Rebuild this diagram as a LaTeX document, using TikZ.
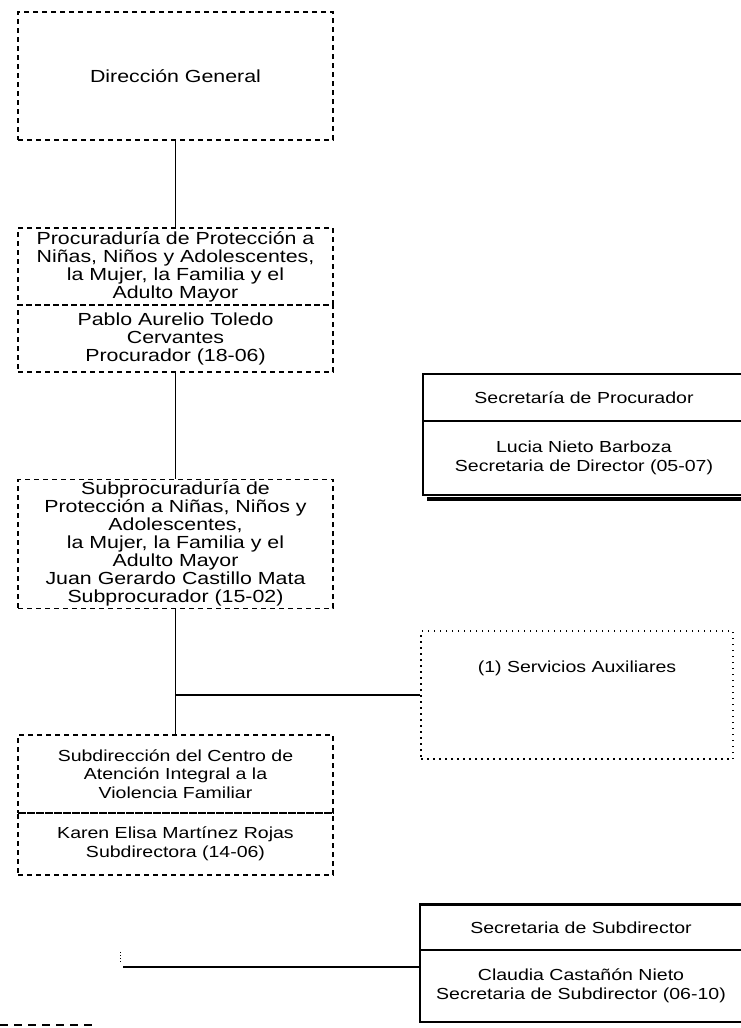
\documentclass[tikz,border=0pt]{standalone}
\usepackage{fontspec}
\setmainfont{Liberation Sans}[FakeStretch=1.22]
\usetikzlibrary{positioning}

\begin{document}
\begin{tikzpicture}[x=1pt, y=-1pt,
    caja/.style={draw, dash pattern=on 5pt off 4pt, line width=1.1pt, align=center, inner sep=2pt},
    cajapunto/.style={draw, dash pattern=on 1.5pt off 4.5pt, line width=1.5pt},
    cajasolida/.style={draw, line width=1.3pt, align=center, inner sep=2pt},
    linea/.style={line width=1.5pt},
    titulo/.style={font=\fontsize{17.5}{18}\selectfont},
    texto/.style={font=\fontsize{16}{18.5}\selectfont}]
    \useasboundingbox (0,0) rectangle (740,1028);

    % Columna principal
    \node[caja, titulo, minimum width=315pt, minimum height=128pt] (dirgral) at (175.5,76) {Dirección General};
    \node[caja, titulo, minimum width=315pt, minimum height=77pt] (procu) at (175.5,266.5)
        {Procuraduría de Protección a\\Niñas, Niños y Adolescentes,\\la Mujer, la Familia y el\\Adulto Mayor};
    \node[caja, titulo, minimum width=315pt, minimum height=67pt] (procunom) at (175.5,338.5)
        {Pablo Aurelio Toledo\\Cervantes\\Procurador (18-06)};
    \node[caja, titulo, minimum width=315pt, minimum height=128pt] (subprocu) at (175.5,544)
        {Subprocuraduría de\\Protección a Niñas, Niños y\\Adolescentes,\\la Mujer, la Familia y el\\Adulto Mayor\\Juan Gerardo Castillo Mata\\Subprocurador (15-02)};
    \node[caja, texto, minimum width=315pt, minimum height=78pt] (subdir) at (175.5,774)
        {Subdirección del Centro de\\Atención Integral a la\\Violencia Familiar};
    \node[caja, texto, minimum width=315pt, minimum height=62pt] (subdirnom) at (175.5,844)
        {Karen Elisa Martínez Rojas\\Subdirectora (14-06)};

    % Secretaria del procurador
    \node[cajasolida, texto, minimum width=322pt, minimum height=47pt] (secpro) at (584,397.5) {Secretaría de Procurador};
    \node[cajasolida, texto, minimum width=322pt, minimum height=74pt] (secpronom) at (584,458)
        {Lucia Nieto Barboza\\Secretaria de Director (05-07)};
    \draw[line width=4pt] ([xshift=5pt,yshift=-3pt]secpronom.south west) -- ([yshift=-3pt]secpronom.south east);

    % Servicios auxiliares
    \node[cajapunto, minimum width=312pt, minimum height=128pt] (servicios) at (577,695) {};
    \node[texto] (servtxt) at (577,668) {(1) Servicios Auxiliares};

    % Secretaria de la subdireccion
    \node[cajasolida, texto, minimum width=322pt, minimum height=45pt] (secsub) at (581,927.5) {Secretaria de Subdirector};
    \node[cajasolida, texto, minimum width=322pt, minimum height=72pt] (secsubnom) at (581,986)
        {Claudia Castañón Nieto\\Secretaria de Subdirector (06-10)};
    \draw[line width=3pt] (secsub.north west) -- (secsub.north east);

    % Conectores
    \draw[linea] (dirgral.south) -- (procu.north);
    \draw[linea] (procunom.south) -- (subprocu.north);
    \draw[linea] (subprocu.south) -- (subdir.north);
    \draw[linea] (subprocu.south |- servicios.west) -- (servicios.west);
    \coordinate (libre) at (123,967);
    \draw[linea] (libre) -- (libre -| secsubnom.west);
    \draw[line width=1pt, dotted] (120,952) -- (120,962);

    % Resto de linea al pie
    \draw[line width=1.5pt, dash pattern=on 8pt off 6pt] (0,1025) -- (95,1025);
\end{tikzpicture}
\end{document}
